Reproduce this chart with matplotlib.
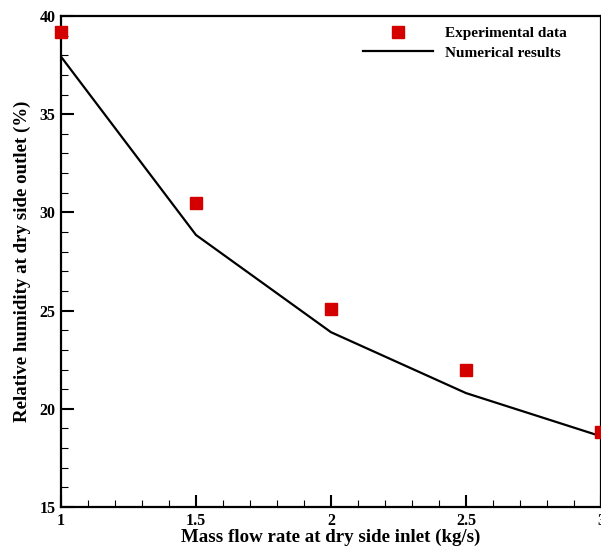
import matplotlib.pyplot as plt
from matplotlib.ticker import MultipleLocator

flow = [1, 1.5, 2, 2.5, 3]
rh_exp = [39.2, 30.5, 25.1, 22.0, 18.8]
rh_num = [37.93, 28.85, 23.9, 20.8, 18.6]

plt.rcParams['font.family'] = ['Liberation Serif', 'DejaVu Serif']
plt.rcParams['font.weight'] = 'bold'

fig = plt.figure(figsize=(6.01, 5.5), dpi=100)
ax = fig.add_axes([61/601, 43/550, 540/601, 491/550])

ax.plot(flow, rh_num, color='black', lw=1.6, label='Numerical results', zorder=2)
ax.plot(flow, rh_exp, ls='none', marker='s', ms=9.2, color='#d40000',
        label='Experimental data', clip_on=False, zorder=3)

ax.set_xlim(1, 3)
ax.set_ylim(15, 40)
ax.xaxis.set_major_locator(MultipleLocator(0.5))
ax.xaxis.set_minor_locator(MultipleLocator(0.1))
ax.yaxis.set_major_locator(MultipleLocator(5))
ax.yaxis.set_minor_locator(MultipleLocator(1))
ax.xaxis.set_major_formatter(lambda v, p: ('%g' % v))
ax.tick_params(which='major', direction='in', length=9, width=1.5, labelsize=11.5, pad=4)
ax.tick_params(which='minor', direction='in', length=5, width=0.8)
for s in ax.spines.values():
    s.set_linewidth(1.6)

ax.set_xlabel('Mass flow rate at dry side inlet (kg/s)', fontsize=13.6, fontweight='bold', labelpad=0)
ax.set_ylabel('Relative humidity at dry side outlet (%)', fontsize=13.6, fontweight='bold', labelpad=6)

h, l = ax.get_legend_handles_labels()
ax.legend([h[1], h[0]], [l[1], l[0]], loc='upper left', bbox_to_anchor=(288/540, 1.006),
          frameon=False, handlelength=4.6, handletextpad=0.8,
          labelspacing=0.35, prop={'weight': 'bold', 'size': 11})

fig.savefig('out.png', dpi=100)
